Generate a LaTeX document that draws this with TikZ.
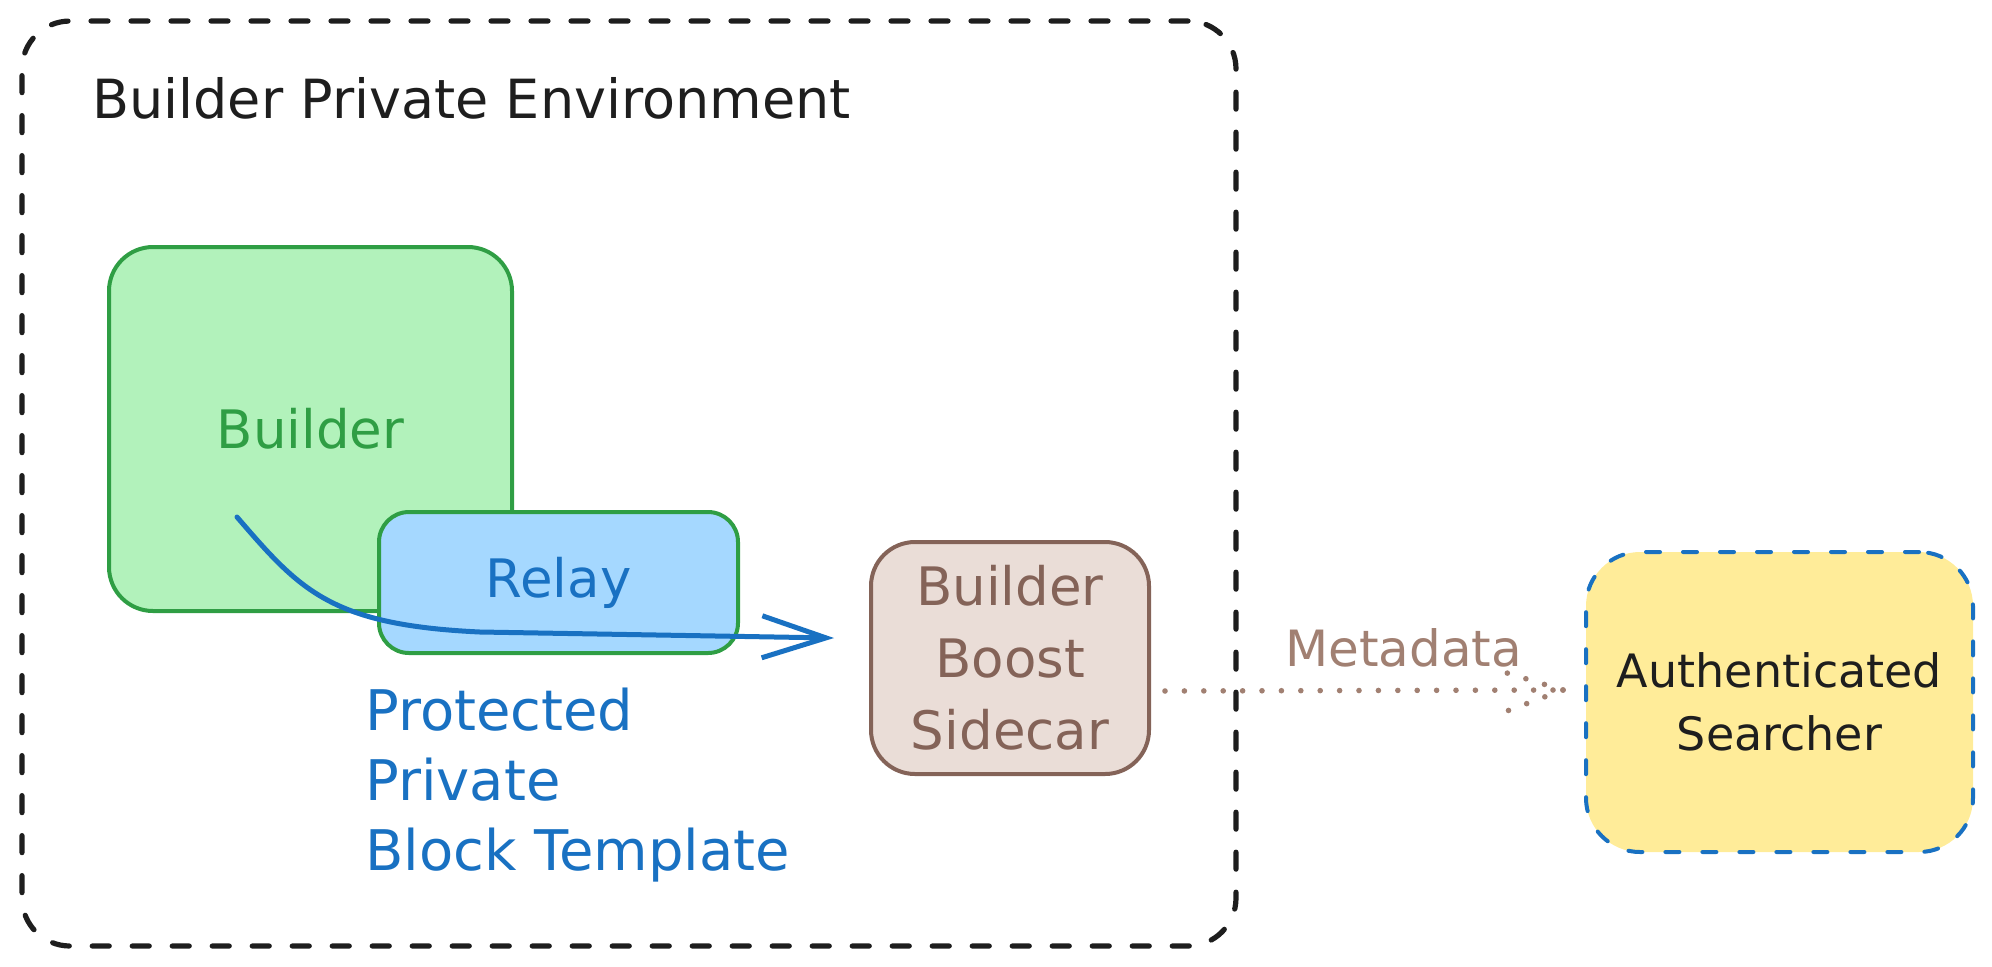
\documentclass[tikz,border=0pt]{standalone}
\usepackage{fontspec}
\setmainfont{DejaVu Sans}
\usetikzlibrary{arrows.meta,positioning}
\definecolor{envblack}{HTML}{1E1E1E}
\definecolor{bldgreen}{HTML}{2F9E44}
\definecolor{bldfill}{HTML}{B2F2BB}
\definecolor{relblue}{HTML}{1971C2}
\definecolor{relfill}{HTML}{A5D8FF}
\definecolor{sidebrown}{HTML}{846358}
\definecolor{sidefill}{HTML}{EADDD7}
\definecolor{metabrown}{HTML}{A18072}
\definecolor{srchfill}{HTML}{FFEC99}
\tikzset{
  box/.style={draw,line width=2pt,rounded corners=22pt,align=center,inner sep=0pt},
  bigtext/.style={font=\fontsize{26.5}{36}\selectfont},
  smalltext/.style={font=\fontsize{23}{31.5}\selectfont},
  dotline/.style={metabrown,line width=2.8pt,line cap=round,dash pattern=on 0pt off 9.7pt},
}

\begin{document}
\begin{tikzpicture}[x=0.5pt,y=-0.5pt]
	\useasboundingbox (0,0) rectangle (1992,966);
	% environment
	\node[box,envblack,line width=2.6pt,line cap=round,dash pattern=on 8.5pt off 11.5pt,rounded corners=24pt,minimum width=607pt,minimum height=462.5pt] (env) at (629,483.5) {};
	\node[envblack,font=\fontsize{27}{36}\selectfont,anchor=base west,inner sep=0pt] (envtitle) at (92,118) {Builder Private Environment};
	% boxes
	\node[box,bldgreen,fill=bldfill,bigtext,minimum width=201.5pt,minimum height=182pt] (builder) at (310.5,429) {Builder};
	\node[box,draw=bldgreen,fill=relfill,text=relblue,bigtext,rounded corners=15pt,minimum width=179.5pt,minimum height=70.5pt] (relay) at (558.5,582.5) {Relay};
	\node[box,sidebrown,fill=sidefill,bigtext,minimum width=139pt,minimum height=116pt] (side) at (1010,658) {Builder\\Boost\\Sidecar};
	\node[box,draw=relblue,fill=srchfill,text=envblack,smalltext,line width=2pt,line cap=round,dash pattern=on 7pt off 11.5pt,rounded corners=27pt,minimum width=193.5pt,minimum height=150pt] (searcher) at (1779.5,702) {Authenticated\\Searcher};
	\node[relblue,font=\fontsize{28}{35}\selectfont,align=left,anchor=base west,inner sep=0pt] (tmpl) at (365,870) {Protected\\Private\\Block Template};
	% arrows
	\coordinate (bstart) at (237,517);
	\draw[relblue,line width=2.5pt,line cap=round,-{Straight Barb[length=32pt,width=21pt]}] (bstart) .. controls (300,590) and (330,625) .. (480,632) -- ([xshift=-17.5pt,yshift=10pt]side.west);
	\coordinate (mtip) at ([xshift=-10.5pt,yshift=6pt]searcher.west);
	\draw[dotline] ([xshift=7pt,yshift=-16.5pt]side.east) -- node[pos=0.6,anchor=base,yshift=12pt,font=\fontsize{25}{30}\selectfont,metabrown] (meta) {Metadata} (mtip);
	\draw[dotline] (mtip) -- ++(-56,-17);
	\draw[dotline] (mtip) -- ++(-56,21);
\end{tikzpicture}
\end{document}
